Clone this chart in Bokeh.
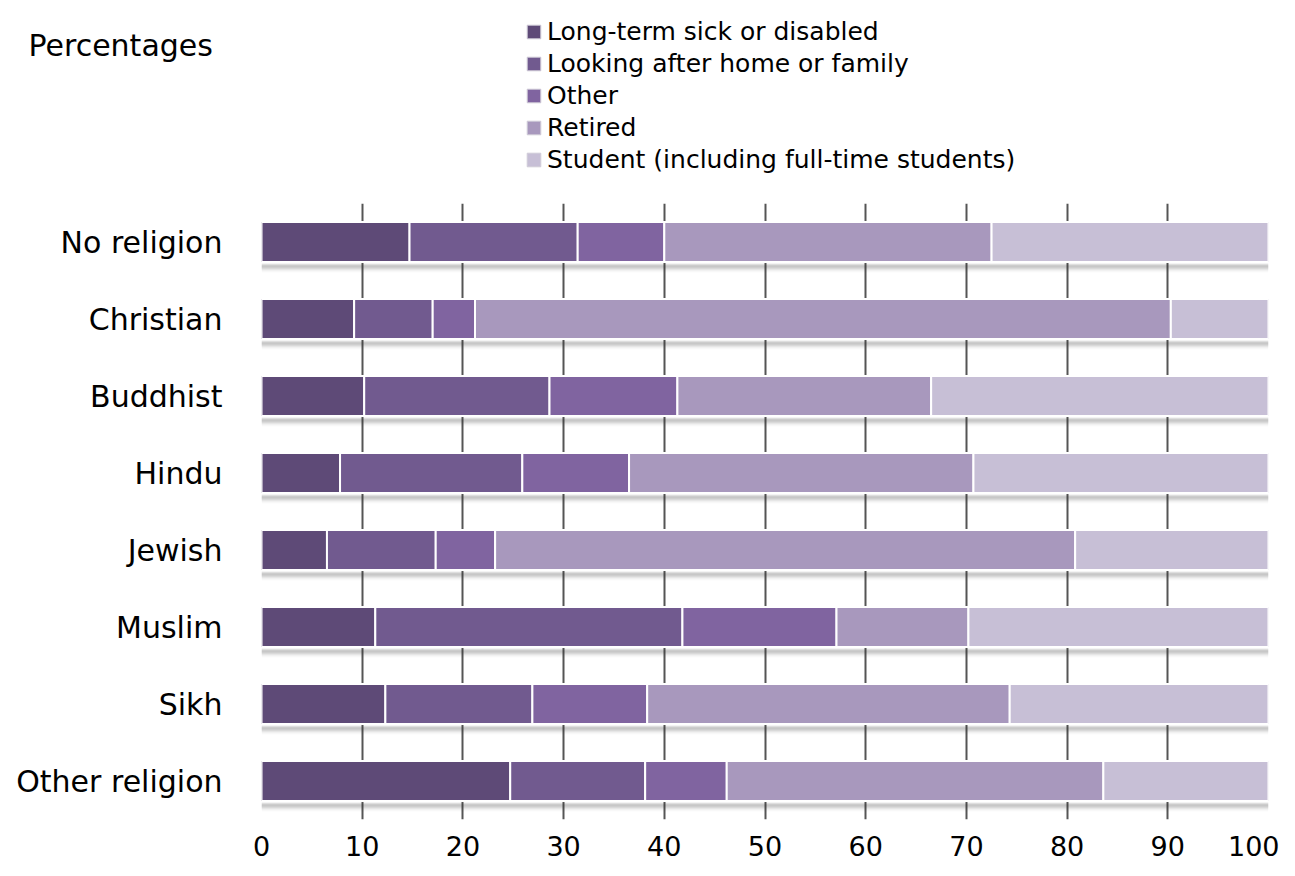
from bokeh.plotting import figure
from bokeh.layouts import column
from bokeh.models import FactorRange, FixedTicker, Legend, LegendItem, Label, ColumnDataSource
from bokeh.transform import dodge
from bokeh.embed import file_html
from bokeh.resources import INLINE

religions = ["No religion", "Christian", "Buddhist", "Hindu", "Jewish", "Muslim", "Sikh", "Other religion"]
series = ["Long-term sick or disabled", "Looking after home or family", "Other", "Retired",
          "Student (including full-time students)"]
long_term_sick = [14.7, 9.2, 10.2, 7.8, 6.5, 11.3, 12.3, 24.7]
looking_after = [16.7, 7.8, 18.4, 18.1, 10.8, 30.5, 14.6, 13.4]
other = [8.6, 4.2, 12.7, 10.6, 5.9, 15.3, 11.4, 8.1]
retired = [32.5, 69.1, 25.2, 34.2, 57.6, 13.1, 36.0, 37.4]
student = [27.5, 9.7, 33.5, 29.3, 19.2, 29.8, 25.7, 16.4]
x_ticks = [0, 10, 20, 30, 40, 50, 60, 70, 80, 90, 100]
colors = ["#5e4a77", "#715a8f", "#8064a0", "#a898bd", "#c7bfd6"]

FONT = "DejaVu Sans"
keys = ["s0", "s1", "s2", "s3", "s4"]
data = dict(cat=religions)
for k, vals in zip(keys, [long_term_sick, looking_after, other, retired, student]):
    data[k] = vals
data["total"] = [sum(v) for v in zip(long_term_sick, looking_after, other, retired, student)]
data["zero"] = [0] * len(religions)
src = ColumnDataSource(data)

W = 1279
TOP_H = 180

# ---- header figure (legend + "Percentages") ----
top = figure(width=W, height=TOP_H, x_range=(0, W), y_range=(0, TOP_H),
             output_backend="svg", toolbar_location=None,
             x_axis_location=None, y_axis_location=None, min_border=0)
top.frame_align = False
top.outline_line_color = None
top.grid.visible = False
nan = float("nan")
legend_src = ColumnDataSource(dict(y=[nan], l=[nan], r=[nan]))
dummies = [top.hbar(y="y", left="l", right="r", height=1, source=legend_src,
                    fill_color=c, line_color="#d0ccd8", line_width=1) for c in colors]
items = [LegendItem(label=s, renderers=[r]) for s, r in zip(series, dummies)]
legend = Legend(items=items, location=(525, 6), orientation="vertical",
                label_text_font=FONT, label_text_font_size="25px", label_text_color="black",
                glyph_width=17, glyph_height=17, label_standoff=5, label_height=28,
                spacing=3, padding=0, margin=0, border_line_color=None,
                background_fill_alpha=0)
top.add_layout(legend, "center")
top.add_layout(Label(x=28, y=135, x_units="screen", y_units="screen", text="Percentages",
                     text_font=FONT, text_font_size="30px", text_color="black",
                     text_baseline="middle"))

# ---- main chart ----
y_range = FactorRange(factors=list(reversed(religions)), range_padding=0)
p = figure(width=W, height=860 - TOP_H, y_range=y_range, x_range=(0, 100),
           output_backend="svg", toolbar_location=None,
           min_border_left=261, min_border_right=11, min_border_top=23, min_border_bottom=41)
p.frame_align = False
p.outline_line_color = None

shadow_layers = [(-0.285, 0.10), (-0.298, 0.22), (-0.311, 0.30), (-0.324, 0.28),
                 (-0.337, 0.22), (-0.350, 0.15), (-0.363, 0.09), (-0.376, 0.05), (-0.389, 0.02)]
for off, a in shadow_layers:
    p.hbar(y=dodge("cat", off, range=y_range), left="zero", right="total", height=0.014,
           source=src, color="#303030", alpha=a, line_color=None)

renderers = p.hbar_stack(keys, y="cat", height=0.52, color=colors, source=src,
                         line_color="white", line_width=2)

p.xgrid.ticker = FixedTicker(ticks=x_ticks)
p.xgrid.grid_line_color = "#555555"
p.xgrid.grid_line_width = 2
p.ygrid.grid_line_color = None

p.xaxis.ticker = FixedTicker(ticks=x_ticks)
p.xaxis.axis_line_color = None
p.xaxis.major_tick_line_color = None
p.xaxis.minor_tick_line_color = None
p.xaxis.major_label_text_font = FONT
p.xaxis.major_label_text_font_size = "27px"
p.xaxis.major_label_text_color = "black"
p.xaxis.major_label_standoff = 10

p.yaxis.axis_line_color = None
p.yaxis.major_tick_line_color = None
p.yaxis.minor_tick_line_color = None
p.yaxis.major_label_text_font = FONT
p.yaxis.major_label_text_font_size = "30px"
p.yaxis.major_label_text_color = "black"
p.yaxis.major_label_standoff = 33

layout = column(top, p, spacing=0)
open("out.html", "w").write(file_html(layout, INLINE))
